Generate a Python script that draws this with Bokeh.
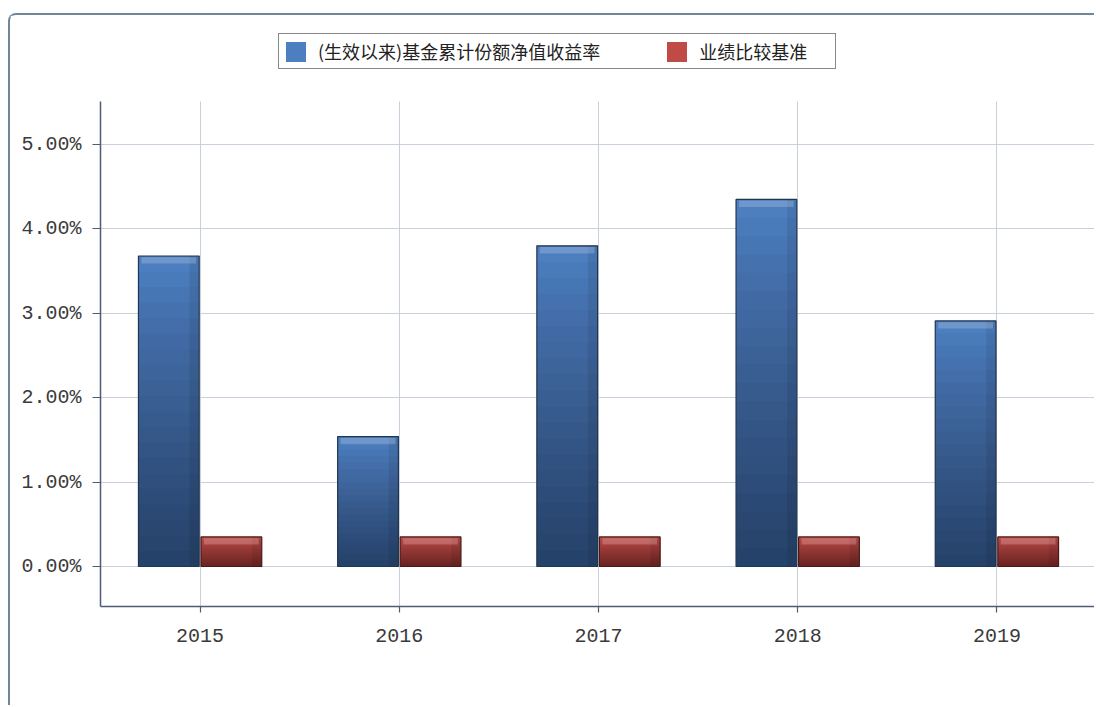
from bokeh.plotting import figure
from bokeh.models import (FactorRange, Range1d, FixedTicker, Legend, LegendItem,
                          ColumnDataSource, BoxAnnotation)
from bokeh.transform import dodge
from bokeh.embed import file_html
from bokeh.resources import INLINE

# ---- data ----
years = ["2015", "2016", "2017", "2018", "2019"]
fund_return = [3.68, 1.54, 3.80, 4.35, 2.91]
benchmark = [0.35, 0.35, 0.35, 0.35, 0.35]
y_ticks = [0, 1, 2, 3, 4, 5]
y_tick_labels = ["0.00%", "1.00%", "2.00%", "3.00%", "4.00%", "5.00%"]
series_names = ["(生效以来)基金累计份额净值收益率", "业绩比较基准"]

# ---- layout / style ----
Y_MIN, Y_AXIS_TOP, Y_CANVAS_TOP = -0.474, 5.51, 6.53
BLUE = "#4c7ec0"
RED = "#c04a46"
BLUE_EDGE = "#22354f"
RED_EDGE = "#4a1a18"
AXIS = "#4d5d73"
GRID = "#c8d0dc"
TICK_FONT = "Liberation Mono"
CJK_FONT = "Noto Sans CJK SC"

p = figure(
    width=1086, height=692,
    x_range=FactorRange(*years, range_padding=0),
    y_range=Range1d(Y_MIN, Y_CANVAS_TOP),
    output_backend="svg", toolbar_location=None,
    min_border_left=90, min_border_right=0, min_border_top=0, min_border_bottom=101,
)
p.styles = {
    "position": "relative", "left": "8px", "top": "13px",
    "border-left": "2px solid #70879a", "border-top": "2px solid #70879a",
    "border-top-left-radius": "8px",
}
p.outline_line_color = None
p.background_fill_color = "#ffffff"
p.border_fill_color = "#ffffff"

p.xgrid.grid_line_color = GRID
p.ygrid.grid_line_color = GRID
p.xgrid.grid_line_width = 1
p.ygrid.grid_line_width = 1

p.yaxis.ticker = FixedTicker(ticks=y_ticks)
p.yaxis.bounds = (Y_MIN, Y_AXIS_TOP)
p.yaxis.major_label_overrides = {t: l for t, l in zip(y_ticks, y_tick_labels)}
for ax in (p.xaxis[0], p.yaxis[0]):
    ax.axis_line_color = AXIS
    ax.axis_line_width = 1.5
    ax.major_tick_line_color = AXIS
    ax.major_tick_line_width = 1.2
    ax.major_tick_in = 0
    ax.minor_tick_line_color = None
    ax.major_label_text_font = TICK_FONT
    ax.major_label_text_font_size = "20px"
    ax.major_label_text_color = "#3a3a3a"
p.yaxis.major_tick_out = 8
p.yaxis.major_label_standoff = 11
p.xaxis.major_tick_out = 6
p.xaxis.major_label_standoff = 16

# hide grid lines above the plotting area (legend region)
p.add_layout(BoxAnnotation(bottom=Y_AXIS_TOP, fill_color="#ffffff", fill_alpha=1.0,
                           line_color=None, level="underlay"))

OFF = 0.157
W = 0.305
N = 20

def draw_series(vals, offset, base, edge):
    src = ColumnDataSource(dict(x=years, top=vals))
    r = p.vbar(x=dodge("x", offset, range=p.x_range), top="top", bottom=0, width=W,
               source=src, fill_color=base, line_color=None)
    # vertical shading: darker toward the base
    for k in range(1, N):
        s = ColumnDataSource(dict(x=years, top=[v * (1 - k / N) for v in vals]))
        p.vbar(x=dodge("x", offset, range=p.x_range), top="top", bottom=0, width=W,
               source=s, fill_color="#000000", fill_alpha=0.028, line_color=None)
    # darker right edge
    p.vbar(x=dodge("x", offset + W * 0.42, range=p.x_range), top="top", bottom=0, width=W * 0.16,
           source=src, fill_color="#000000", fill_alpha=0.08, line_color=None)
    # top highlight
    hs = ColumnDataSource(dict(x=years, top=[v - 0.015 for v in vals], bottom=[v - 0.09 for v in vals]))
    p.vbar(x=dodge("x", offset, range=p.x_range), top="top", bottom="bottom", width=W * 0.9,
           source=hs, fill_color="#ffffff", fill_alpha=0.2, line_color=None)
    # outline
    p.vbar(x=dodge("x", offset, range=p.x_range), top="top", bottom=0, width=W,
           source=src, fill_color=None, line_color=edge, line_width=1.2)
    return r

r_fund = draw_series(fund_return, -OFF, BLUE, BLUE_EDGE)
r_bench = draw_series(benchmark, OFF, RED, RED_EDGE)

legend = Legend(
    items=[LegendItem(label=series_names[0], renderers=[r_fund]),
           LegendItem(label=series_names[1], renderers=[r_bench])],
    orientation="horizontal",
    location=(178, 537),
    label_text_font=CJK_FONT,
    label_text_font_size="18px",
    label_text_color="#222222",
    glyph_width=25, glyph_height=25,
    label_standoff=10,
    spacing=64,
    padding=4,
    margin=0,
    label_width=132,
    border_line_color="#111111",
    border_line_width=1.8,
    background_fill_color="#ffffff",
    background_fill_alpha=1.0,
)
p.add_layout(legend)

open("out.html", "w").write(file_html(p, INLINE))
